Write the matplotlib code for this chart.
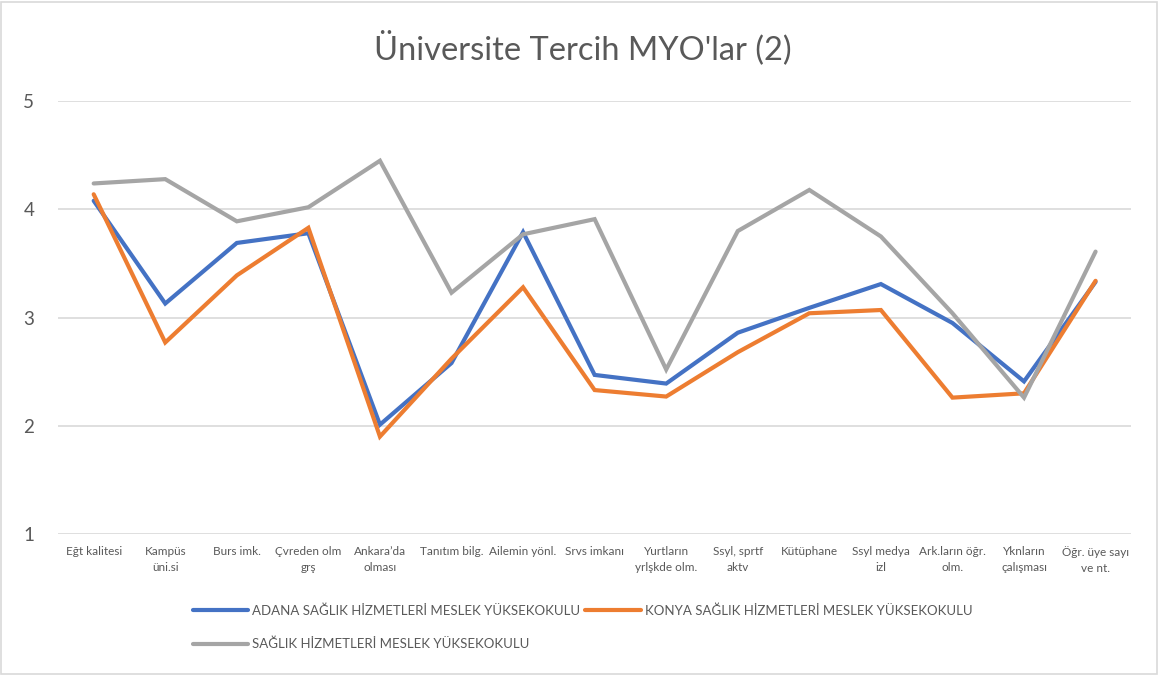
import matplotlib
matplotlib.use("Agg")
import matplotlib.pyplot as plt
import matplotlib.patches as patches

plt.rcParams['font.family'] = ['Lato', 'DejaVu Sans']

# ==========================================
# DATA
# ==========================================

categories = [
    "Eğt kalitesi", "Kampüs\nüni.si", "Burs imk.", "Çvreden olm\ngrş",
    "Ankara’da\nolması", "Tanıtım bilg.", "Ailemin yönl.", "Srvs imkanı",
    "Yurtların\nyrlşkde olm.", "Ssyl, sprtf\naktv", "Kütüphane",
    "Ssyl medya\nizl", "Ark.ların öğr.\nolm.", "Yknların\nçalışması",
    "Öğr. üye sayı\nve nt.",
]

adana = [4.08, 3.13, 3.69, 3.78, 2.01, 2.58, 3.79, 2.47, 2.39, 2.86,
         3.09, 3.31, 2.95, 2.41, 3.33]
konya = [4.14, 2.77, 3.39, 3.83, 1.90, 2.62, 3.28, 2.33, 2.27, 2.68,
         3.04, 3.07, 2.26, 2.30, 3.34]
shmyo = [4.24, 4.28, 3.89, 4.02, 4.45, 3.23, 3.77, 3.91, 2.52, 3.80,
         4.18, 3.75, 3.04, 2.26, 3.61]

series_names = [
    "ADANA SAĞLIK HİZMETLERİ MESLEK YÜKSEKOKULU",
    "KONYA SAĞLIK HİZMETLERİ MESLEK YÜKSEKOKULU",
    "SAĞLIK HİZMETLERİ MESLEK YÜKSEKOKULU",
]
colors = ["#4472C4", "#ED7D31", "#A5A5A5"]

TEXT = "#595959"

# ==========================================
# FIGURE
# ==========================================

fig = plt.figure(figsize=(11.58, 6.75), dpi=100)
ax = fig.add_axes([0.050, 0.209, 0.927, 0.641])

x = list(range(len(categories)))

lines = []
for vals, name, col in zip([adana, konya, shmyo], series_names, colors):
    ln, = ax.plot(x, vals, color=col, linewidth=3.0, label=name,
                  solid_joinstyle="miter", solid_capstyle="round")
    lines.append(ln)

ax.set_xlim(-0.5, len(categories) - 0.5)
ax.set_ylim(1, 5)
ax.set_yticks([1, 2, 3, 4, 5])
ax.set_xticks(x)
ax.set_xticklabels(categories, fontsize=8.5, color=TEXT, linespacing=1.5)
ax.tick_params(axis="x", length=0, pad=9)
ax.tick_params(axis="y", length=0, pad=17, labelsize=13.5, labelcolor=TEXT)

ax.grid(axis="y", color="#D9D9D9", linewidth=1.2)
ax.set_axisbelow(True)
for s in ax.spines.values():
    s.set_visible(False)

fig.text(0.503, 0.929, "Üniversite Tercih MYO'lar (2)", ha="center",
         va="center", fontsize=23.5, color=TEXT)

# ==========================================
# LEGEND (row-major order)
# ==========================================

order = [0, 2, 1]
leg = fig.legend([lines[i] for i in order], [series_names[i] for i in order],
                 loc="center", bbox_to_anchor=(0.503, 0.071), ncol=2,
                 frameon=False, fontsize=9.5, handlelength=4.2,
                 handletextpad=0.3, columnspacing=0.4, labelspacing=1.6)
for t in leg.get_texts():
    t.set_color(TEXT)
for ln in leg.get_lines():
    ln.set_linewidth(3.0)

# chart border
fig.add_artist(patches.Rectangle((0.001, 0.001), 0.998, 0.996,
                                 transform=fig.transFigure, fill=False,
                                 edgecolor="#D9D9D9", linewidth=1.2))

fig.savefig("out.png", dpi=100)
